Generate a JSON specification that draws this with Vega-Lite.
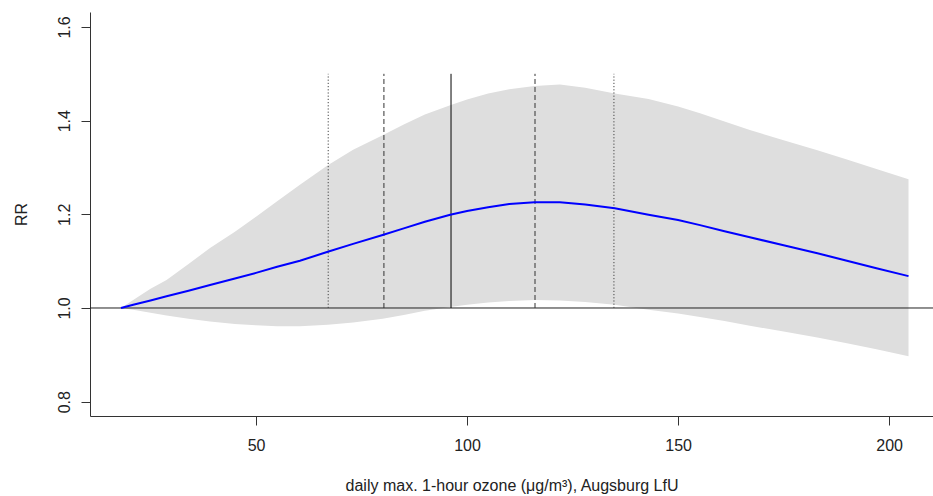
{
  "$schema": "https://vega.github.io/schema/vega-lite/v6.json",
  "width": 843,
  "height": 404,
  "autosize": {"type": "none"},
  "padding": {"left": 90, "top": 12, "right": 0, "bottom": 80},
  "background": "white",
  "config": {
    "view": {"stroke": null},
    "font": "Liberation Sans",
    "axis": {
      "grid": false,
      "domainColor": "#333333",
      "tickColor": "#333333",
      "labelColor": "#222222",
      "titleColor": "#222222",
      "labelFont": "Liberation Sans",
      "titleFont": "Liberation Sans",
      "labelFontSize": 16,
      "titleFontSize": 16,
      "titleFontWeight": "normal",
      "tickSize": 9,
      "domainWidth": 1,
      "tickWidth": 1
    }
  },
  "datasets": {
    "curve": [
      {"x": 18, "rr": 1.0, "lo": 1.0, "hi": 1.0},
      {"x": 20.9, "rr": 1.007, "lo": 0.996, "hi": 1.017},
      {"x": 25, "rr": 1.016, "lo": 0.99, "hi": 1.041},
      {"x": 28.8, "rr": 1.025, "lo": 0.984, "hi": 1.06},
      {"x": 34, "rr": 1.037, "lo": 0.977, "hi": 1.094},
      {"x": 39.1, "rr": 1.049, "lo": 0.971, "hi": 1.128},
      {"x": 45, "rr": 1.063, "lo": 0.966, "hi": 1.163},
      {"x": 50, "rr": 1.075, "lo": 0.963, "hi": 1.195},
      {"x": 55, "rr": 1.088, "lo": 0.961, "hi": 1.228},
      {"x": 60.4, "rr": 1.101, "lo": 0.961, "hi": 1.263},
      {"x": 67, "rr": 1.12, "lo": 0.964, "hi": 1.305},
      {"x": 73, "rr": 1.137, "lo": 0.969, "hi": 1.338},
      {"x": 80, "rr": 1.156, "lo": 0.977, "hi": 1.369},
      {"x": 85, "rr": 1.17, "lo": 0.985, "hi": 1.392},
      {"x": 90, "rr": 1.184, "lo": 0.994, "hi": 1.413},
      {"x": 96, "rr": 1.199, "lo": 1.002, "hi": 1.433},
      {"x": 100, "rr": 1.207, "lo": 1.007, "hi": 1.445},
      {"x": 105, "rr": 1.215, "lo": 1.012, "hi": 1.458},
      {"x": 110, "rr": 1.222, "lo": 1.015, "hi": 1.467},
      {"x": 116, "rr": 1.226, "lo": 1.017, "hi": 1.474},
      {"x": 122, "rr": 1.226, "lo": 1.016, "hi": 1.477},
      {"x": 128, "rr": 1.221, "lo": 1.013, "hi": 1.47},
      {"x": 135, "rr": 1.213, "lo": 1.007, "hi": 1.458},
      {"x": 143, "rr": 1.199, "lo": 0.996, "hi": 1.446},
      {"x": 150, "rr": 1.188, "lo": 0.988, "hi": 1.43},
      {"x": 155.2, "rr": 1.177, "lo": 0.981, "hi": 1.416},
      {"x": 161, "rr": 1.164, "lo": 0.972, "hi": 1.398},
      {"x": 167, "rr": 1.151, "lo": 0.962, "hi": 1.38},
      {"x": 175, "rr": 1.134, "lo": 0.95, "hi": 1.358},
      {"x": 183, "rr": 1.117, "lo": 0.937, "hi": 1.337},
      {"x": 190, "rr": 1.101, "lo": 0.925, "hi": 1.317},
      {"x": 197, "rr": 1.085, "lo": 0.912, "hi": 1.297},
      {"x": 204.6, "rr": 1.068, "lo": 0.897, "hi": 1.275}
    ],
    "vlines": [
      {"x": 67.1, "y": 1.0, "y2": 1.5, "kind": "dotted"},
      {"x": 80.3, "y": 1.0, "y2": 1.5, "kind": "dashed"},
      {"x": 96.2, "y": 1.0, "y2": 1.5, "kind": "solid"},
      {"x": 116.1, "y": 1.0, "y2": 1.5, "kind": "dashed"},
      {"x": 134.8, "y": 1.0, "y2": 1.5, "kind": "dotted"}
    ],
    "hline": [{"h": 1.0}]
  },
  "layer": [
    {
      "data": {"name": "curve"},
      "mark": {"type": "area", "color": "#dedede", "opacity": 1},
      "encoding": {
        "x": {
          "field": "x", "type": "quantitative",
          "scale": {"domain": [10.66, 210.4], "nice": false, "zero": false},
          "axis": {
            "values": [50, 100, 150, 200],
            "title": "daily max. 1-hour ozone (μg/m³), Augsburg LfU",
            "labelPadding": 12,
            "titlePadding": 24
          }
        },
        "y": {
          "field": "hi", "type": "quantitative",
          "scale": {"domain": [0.7694, 1.632], "nice": false, "zero": false},
          "axis": {
            "values": [0.8, 1.0, 1.2, 1.4, 1.6],
            "format": ".1f",
            "title": "RR",
            "labelAngle": -90,
            "labelAlign": "center",
            "labelBaseline": "bottom",
            "labelPadding": 9,
            "titleAngle": -90,
            "titleFontSize": 16,
            "titleBaseline": "bottom",
            "titlePadding": 27
          }
        },
        "y2": {"field": "lo"}
      }
    },
    {
      "data": {"name": "hline"},
      "mark": {"type": "rule", "color": "#222222", "strokeWidth": 1},
      "encoding": {"y": {"field": "h", "type": "quantitative"}}
    },
    {
      "data": {"name": "vlines"},
      "mark": {"type": "rule", "strokeWidth": 1},
      "encoding": {
        "x": {"field": "x", "type": "quantitative"},
        "y": {"field": "y", "type": "quantitative"},
        "y2": {"field": "y2"},
        "strokeDash": {
          "field": "kind", "type": "nominal",
          "scale": {"domain": ["solid", "dashed", "dotted"], "range": [[1, 0], [5, 3], [1.2, 2]]},
          "legend": null
        },
        "color": {
          "field": "kind", "type": "nominal",
          "scale": {"domain": ["solid", "dashed", "dotted"], "range": ["#000000", "#333333", "#444444"]},
          "legend": null
        }
      }
    },
    {
      "data": {"name": "curve"},
      "mark": {"type": "line", "color": "#0000ff", "strokeWidth": 2},
      "encoding": {
        "x": {"field": "x", "type": "quantitative"},
        "y": {"field": "rr", "type": "quantitative"}
      }
    }
  ]
}
